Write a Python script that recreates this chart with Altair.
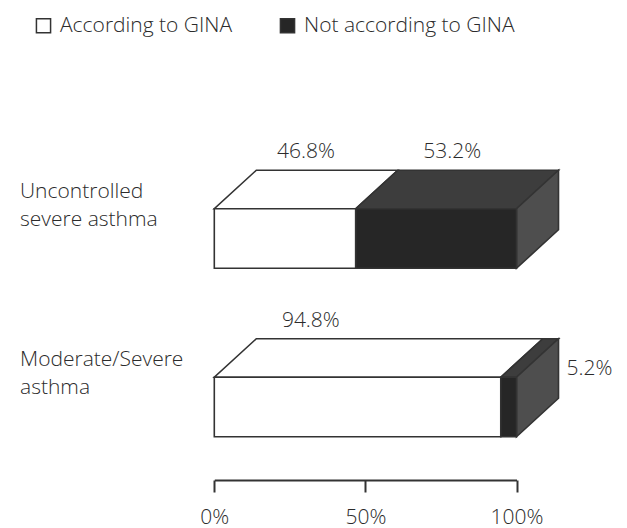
import altair as alt
import pandas as pd

# ---- data ----
categories = ["Uncontrolled\nsevere asthma", "Moderate/Severe\nasthma"]
groups = ["According to GINA", "Not according to GINA"]
according = [46.8, 94.8]
not_according = [53.2, 5.2]
axis_ticks = [0, 50, 100]

# ---- style / layout constants ----
FONT = "Open Sans"
FS = 21
TXT = "#2b2b2b"
EDGE = "#333333"
FRONT = {"According to GINA": "#ffffff", "Not according to GINA": "#262626"}
TOP = {"According to GINA": "#ffffff", "Not according to GINA": "#3d3d3d"}
SIDE = {"According to GINA": "#ffffff", "Not according to GINA": "#4e4e4e"}
PX_PER_ROW = 168.5
PX_PER_PCT = 3.022
HALF = 29.75 / PX_PER_ROW          # half height of the front face (row units)
DEPTH_Y = 38.5 / PX_PER_ROW        # 3-D depth, vertical part (row units)
DEPTH_X = 42.0 / PX_PER_PCT        # 3-D depth, horizontal part (percent units)

X_SCALE = alt.Scale(domain=[0, 100], range=[206.3, 508.5], nice=False, zero=False)
Y_SCALE = alt.Scale(domain=[1, 2], range=[230.5, 399.0], nice=False, zero=False)

# ---- tables built from the arrays ----
seg_rows, top_rows, side_rows, lab_rows = [], [], [], []
for i, cat in enumerate(categories):
    row = i + 1
    start = 0.0
    vals = [according[i], not_according[i]]
    for j, (g, v) in enumerate(zip(groups, vals)):
        end = start + v
        sid = f"{i}-{j}"
        seg_rows.append(dict(row=row, group=g, start=start, end=end,
                             y=row - HALF, y2=row + HALF))
        top_rows.append(dict(sid=sid, color=TOP[g], y=row - HALF, x=start, x2=end))
        top_rows.append(dict(sid=sid, color=TOP[g], y=row - HALF - DEPTH_Y,
                             x=start + DEPTH_X, x2=end + DEPTH_X))
        if j == len(vals) - 1:
            side_rows.append(dict(sid=sid, color=SIDE[g], x=end, y=row - HALF, y2=row + HALF))
            side_rows.append(dict(sid=sid, color=SIDE[g], x=end + DEPTH_X,
                                  y=row - HALF - DEPTH_Y, y2=row + HALF - DEPTH_Y))
        small = v < 10
        if small:
            lx, ly = end + DEPTH_X, row - DEPTH_Y
        else:
            lx, ly = start + min(v / 2, 25) + DEPTH_X / 2, row - HALF - DEPTH_Y
        lab_rows.append(dict(label=f"{v:.1f}%", x=lx, y=ly, side=small))
        start = end

seg = pd.DataFrame(seg_rows)
top = pd.DataFrame(top_rows)
side = pd.DataFrame(side_rows)
labs = pd.DataFrame(lab_rows)
cats = pd.DataFrame(dict(cat=categories, y=[k + 1 - HALF for k in range(len(categories))]))

X_AXIS = alt.Axis(values=axis_ticks, labelExpr="datum.value + '%'", grid=False,
                  domainColor=EDGE, domainWidth=2, tickColor=EDGE, tickWidth=2,
                  tickSize=12, labelFont=FONT, labelFontSize=FS, labelColor=TXT,
                  labelFontWeight=300, labelPadding=14, labelFlush=False,
                  labelOverlap=False, title=None)

front = alt.Chart(seg).mark_rect(stroke=EDGE, strokeWidth=1.6).encode(
    x=alt.X("start:Q", scale=X_SCALE, axis=X_AXIS),
    x2="end:Q",
    y=alt.Y("y:Q", scale=Y_SCALE, axis=None),
    y2="y2:Q",
    fill=alt.Fill("group:N", scale=alt.Scale(domain=groups, range=[FRONT[g] for g in groups]),
                  legend=alt.Legend(title=None, orient="none", legendX=25, legendY=7,
                                    direction="horizontal", symbolType="square",
                                    symbolSize=200, symbolStrokeColor=EDGE,
                                    symbolStrokeWidth=1.5, labelFont=FONT, labelFontSize=FS,
                                    labelFontWeight=300,
                                    labelColor=TXT, labelOffset=6, columnPadding=44,
                                    labelLimit=400, padding=0)),
)

top_face = alt.Chart(top).mark_area(orient="horizontal", stroke=EDGE, strokeWidth=1.6).encode(
    y=alt.Y("y:Q", scale=Y_SCALE, axis=None),
    x=alt.X("x:Q", scale=X_SCALE, axis=X_AXIS, stack=None),
    x2="x2:Q",
    detail="sid:N",
    fill=alt.Fill("color:N", scale=None),
)

side_face = alt.Chart(side).mark_area(orient="vertical", stroke=EDGE, strokeWidth=1.6).encode(
    x=alt.X("x:Q", scale=X_SCALE, axis=X_AXIS),
    y=alt.Y("y:Q", scale=Y_SCALE, axis=None, stack=None),
    y2="y2:Q",
    detail="sid:N",
    fill=alt.Fill("color:N", scale=None),
)

above_labels = alt.Chart(labs).transform_filter("!datum.side").mark_text(
    font=FONT, fontSize=FS, fontWeight=300, color=TXT, align="center",
    baseline="alphabetic", dy=-12
).encode(
    x=alt.X("x:Q", scale=X_SCALE, axis=X_AXIS),
    y=alt.Y("y:Q", scale=Y_SCALE, axis=None),
    text="label:N",
)

side_labels = alt.Chart(labs).transform_filter("datum.side").mark_text(
    font=FONT, fontSize=FS, fontWeight=300, color=TXT, align="left", baseline="middle", dx=8
).encode(
    x=alt.X("x:Q", scale=X_SCALE, axis=X_AXIS),
    y=alt.Y("y:Q", scale=Y_SCALE, axis=None),
    text="label:N",
)

cat_labels = alt.Chart(cats).mark_text(
    font=FONT, fontSize=FS, fontWeight=300, color=TXT, align="left", baseline="alphabetic",
    lineBreak="\n", lineHeight=28, dy=-11
).encode(
    x=alt.value(12),
    y=alt.Y("y:Q", scale=Y_SCALE, axis=None),
    text="cat:N",
)

chart = alt.layer(top_face, side_face, front, above_labels, side_labels, cat_labels).properties(
    width=611, height=472,
    autosize=alt.AutoSizeParams(type="none"),
    padding={"left": 0, "top": 0, "right": 0, "bottom": 60},
).configure(background="white").configure_view(stroke=None)

chart.save("out.html", embed_options={"renderer": "svg", "actions": False})
